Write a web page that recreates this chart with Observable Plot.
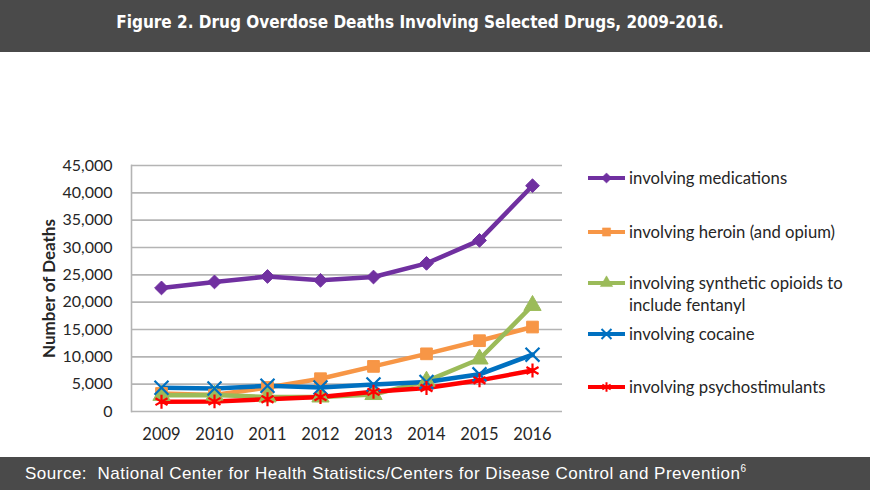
<!DOCTYPE html>
<html><head><meta charset="utf-8">
<script src="https://cdn.jsdelivr.net/npm/d3@7"></script>
<script src="https://cdn.jsdelivr.net/npm/@observablehq/plot@0.6"></script>
<style>
html,body{margin:0;padding:0;background:#fff;}
#wrap{position:relative;width:870px;height:490px;overflow:hidden;background:#fff;}
#title{position:absolute;left:0;top:0;width:870px;height:52px;background:#4a4a4a;color:#fff;font-family:"DejaVu Sans Condensed","DejaVu Sans",sans-serif;font-weight:bold;font-size:17px;line-height:44px;text-align:center;text-indent:-30px;}
#footer{position:absolute;left:0;top:457px;width:870px;height:33px;background:#4a4a4a;color:#fff;font-family:"Liberation Sans",Arial,sans-serif;font-size:17px;letter-spacing:0.5px;line-height:34px;text-indent:25px;}
#footer sup{font-size:10px;vertical-align:7px;line-height:0;letter-spacing:0;}
#chart{position:absolute;left:0;top:52px;}
.leg{position:absolute;left:586px;font-family:Lato,sans-serif;font-size:16.7px;color:#262626;line-height:22px;}
.leg svg{position:absolute;left:0;top:0;}
.leg span{position:absolute;left:43px;top:-11px;white-space:nowrap;}
</style></head>
<body>
<div id="wrap">
  <div id="title">Figure 2. Drug Overdose Deaths Involving Selected Drugs, 2009-2016.</div>
  <div id="chart"></div>
  <div id="footer">Source:&nbsp; National Center for Health Statistics/Centers for Disease Control and Prevention<sup>6</sup></div>
</div>
<script>
const years = [2009, 2010, 2011, 2012, 2013, 2014, 2015, 2016];
const seriesNames = [
  "involving medications",
  "involving heroin (and opium)",
  "involving synthetic opioids to include fentanyl",
  "involving cocaine",
  "involving psychostimulants"
];
const medications      = [22600, 23700, 24700, 24000, 24600, 27100, 31300, 41300];
const heroin           = [3300, 3000, 4400, 6000, 8250, 10550, 12950, 15450];
const synthetic        = [2950, 3000, 2650, 2650, 3100, 5550, 9600, 19400];
const cocaine          = [4350, 4200, 4700, 4400, 4950, 5400, 6800, 10400];
const psychostimulants = [1800, 1850, 2250, 2650, 3600, 4300, 5700, 7500];
const yTicks = [0, 5000, 10000, 15000, 20000, 25000, 30000, 35000, 40000, 45000];

const colors  = ["#7030A0", "#F79646", "#9BBB59", "#0070C0", "#FF0000"];
const symbols = ["diamond2", "square", "triangle", "times", "asterisk"];
const radii   = [6.2, 6.6, 6.4, 6.4, 6.6];
const filled  = [true, true, true, false, false];
const legendLines = [
  ["involving medications"],
  ["involving heroin (and opium)"],
  ["involving synthetic opioids to", "include fentanyl"],
  ["involving cocaine"],
  ["involving psychostimulants"]
];
const legendY = [178, 232, 283, 334, 387];

const allValues = [medications, heroin, synthetic, cocaine, psychostimulants];
const rows = [];
allValues.forEach((vals, i) => vals.forEach((v, j) => rows.push({series: seriesNames[i], year: years[j], value: v})));

const marks = [
  Plot.gridY(yTicks, {stroke: "#b4b4b4", strokeOpacity: 1, strokeWidth: 1.6}),
  Plot.frame({anchor: "left", stroke: "#b4b4b4", strokeWidth: 1.6}),
  Plot.axisY(yTicks, {tickSize: 0, tickPadding: 19, tickFormat: d3.format(","), fontSize: 16, fill: "#262626",
    label: "Number of Deaths", labelAnchor: "center", labelArrow: "none", labelOffset: 89}),
  Plot.axisX(years, {tickSize: 0, tickPadding: 17, tickFormat: d => String(d), fontSize: 16.5, fill: "#262626", label: null})
];
seriesNames.forEach((s, i) => {
  const data = rows.filter(r => r.series === s);
  marks.push(Plot.line(data, {x: "year", y: "value", stroke: colors[i], strokeWidth: 4.5}));
});
seriesNames.forEach((s, i) => {
  const data = rows.filter(r => r.series === s);
  marks.push(Plot.dot(data, {x: "year", y: "value", symbol: () => symbols[i], r: radii[i],
    fill: filled[i] ? colors[i] : "none", stroke: colors[i], strokeWidth: filled[i] ? 1 : 2.2}));
});

const chart = Plot.plot({
  width: 870, height: 405,
  marginLeft: 131, marginRight: 308, marginTop: 113, marginBottom: 46,
  x: {type: "point", domain: years, padding: 0.5},
  y: {domain: [0, 45000]},
  symbol: {type: "identity"},
  style: {fontFamily: "Lato, sans-serif", background: "transparent", overflow: "visible"},
  marks
});
document.getElementById("chart").appendChild(chart);
d3.select(chart).selectAll("text").filter(function(){return this.textContent === "Number of Deaths";})
  .attr("font-weight", "bold").attr("font-size", 17);

// Legend
const wrap = d3.select("#wrap");
const symMap = {diamond2: d3.symbolDiamond2, square: d3.symbolSquare, triangle: d3.symbolTriangle, times: d3.symbolTimes, asterisk: d3.symbolAsterisk};
seriesNames.forEach((s, i) => {
  const g = wrap.append("div").attr("class", "leg").style("top", legendY[i] + "px");
  const svg = g.append("svg").attr("width", 42).attr("height", 20).style("top", "-10px").style("overflow", "visible");
  svg.append("line").attr("x1", 2).attr("x2", 39).attr("y1", 10).attr("y2", 10).attr("stroke", colors[i]).attr("stroke-width", 4);
  svg.append("path").attr("transform", "translate(20.5,10)")
    .attr("d", d3.symbol(symMap[symbols[i]], Math.PI * 4.6 * 4.6)())
    .attr("fill", filled[i] ? colors[i] : "none").attr("stroke", colors[i]).attr("stroke-width", filled[i] ? 0.5 : 2);
  g.append("span").html(legendLines[i].join("<br>"));
});
</script>
</body></html>
